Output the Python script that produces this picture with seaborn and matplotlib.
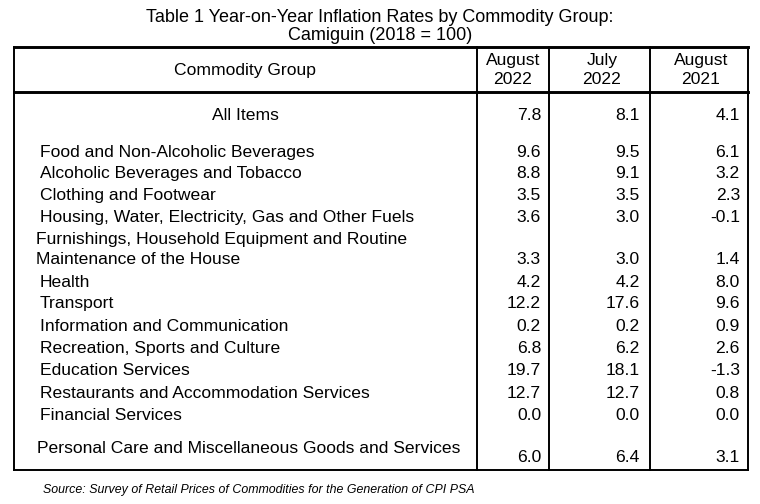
import matplotlib.pyplot as plt
import seaborn as sns

# table contents
groups = [
    "All Items",
    "Food and Non-Alcoholic Beverages",
    "Alcoholic Beverages and Tobacco",
    "Clothing and Footwear",
    "Housing, Water, Electricity, Gas and Other Fuels",
    "Furnishings, Household Equipment and Routine\nMaintenance of the House",
    "Health",
    "Transport",
    "Information and Communication",
    "Recreation, Sports and Culture",
    "Education Services",
    "Restaurants and Accommodation Services",
    "Financial Services",
    "Personal Care and Miscellaneous Goods and Services",
]
aug_2022 = [7.8, 9.6, 8.8, 3.5, 3.6, 3.3, 4.2, 12.2, 0.2, 6.8, 19.7, 12.7, 0.0, 6.0]
jul_2022 = [8.1, 9.5, 9.1, 3.5, 3.0, 3.0, 4.2, 17.6, 0.2, 6.2, 18.1, 12.7, 0.0, 6.4]
aug_2021 = [4.1, 6.1, 3.2, 2.3, -0.1, 1.4, 8.0, 9.6, 0.9, 2.6, -1.3, 0.8, 0.0, 3.1]
col_heads = ["August\n2022", "July\n2022", "August\n2021"]

sns.set_theme(style="white", rc={'text.color': 'black'})
plt.rcParams['font.family'] = ['Liberation Sans', 'DejaVu Sans']

fig = plt.figure(figsize=(7.6, 5.04), dpi=100)
ax = fig.add_axes([0, 0, 1, 1])
ax.set_xlim(0, 760)
ax.set_ylim(504, 0)
ax.axis('off')

fs = 12.6
left, right, top, bottom = 13.5, 747.5, 46.5, 469.5
col_x = [477, 549, 650]
head_y = 92

# title
ax.text(380, 18, "Table 1 Year-on-Year Inflation Rates by Commodity Group:", ha='center', va='center', fontsize=13)
ax.text(380, 36, "Camiguin (2018 = 100)", ha='center', va='center', fontsize=13)

# frame
ax.plot([left, right], [top, top], color='black', lw=2.1, solid_capstyle='projecting')
ax.plot([left, right], [head_y, head_y], color='black', lw=2.1, solid_capstyle='projecting')
ax.plot([left, right], [bottom, bottom], color='black', lw=1.4, solid_capstyle='projecting')
for x in [left] + col_x + [right]:
    ax.plot([x, x], [top, bottom], color='black', lw=1.4)

# header
ax.text(245, 70, "Commodity Group", ha='center', va='center', fontsize=fs)
centers = [513, 602, 701]
for cx, h in zip(centers, col_heads):
    ax.text(cx, 70, h, ha='center', va='center', fontsize=fs, linespacing=1.25)

# rows
label_y = [115.5, 152.5, 173.5, 195.5, 217.5, 249.5, 282.5, 303.5, 326.5, 348.5, 370.5, 393.5, 415.5, 448.5]
value_y = [115.5, 152.5, 173.5, 195.5, 217.5, 259.5, 282.5, 303.5, 326.5, 348.5, 370.5, 393.5, 415.5, 457.5]
label_x = [245, 40, 40, 40, 40, 36, 40, 40, 40, 40, 40, 40, 40, 37]
val_right = [541, 640, 740]

for i, g in enumerate(groups):
    if i == 0:
        ax.text(label_x[i], label_y[i], g, ha='center', va='center', fontsize=fs)
    else:
        ax.text(label_x[i], label_y[i], g, ha='left', va='center', fontsize=fs, linespacing=1.35)
    for xr, vals in zip(val_right, [aug_2022, jul_2022, aug_2021]):
        ax.text(xr, value_y[i], f"{vals[i]:.1f}", ha='right', va='center', fontsize=fs)

ax.text(43, 490, "Source: Survey of Retail Prices of Commodities for the Generation of CPI PSA",
        ha='left', va='center', fontsize=8.9, style='italic')

fig.savefig('out.png', dpi=100)
